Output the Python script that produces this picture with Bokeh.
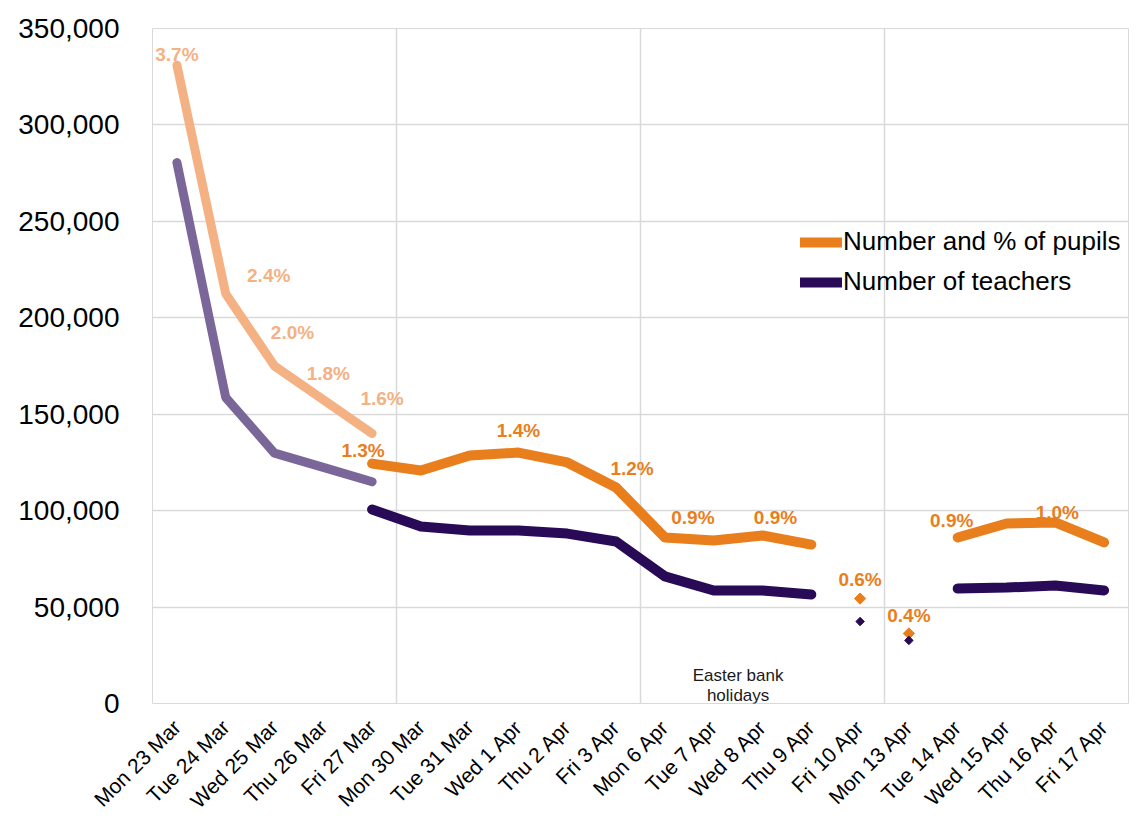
import math
from bokeh.plotting import figure
from bokeh.models import FixedTicker, NumeralTickFormatter, ColumnDataSource, Legend, LegendItem, Label
from bokeh.core.properties import value
from bokeh.embed import file_html
from bokeh.resources import INLINE

# ---------------- data ----------------
dates = ["Mon 23 Mar", "Tue 24 Mar", "Wed 25 Mar", "Thu 26 Mar", "Fri 27 Mar",
         "Mon 30 Mar", "Tue 31 Mar", "Wed 1 Apr", "Thu 2 Apr", "Fri 3 Apr",
         "Mon 6 Apr", "Tue 7 Apr", "Wed 8 Apr", "Thu 9 Apr", "Fri 10 Apr",
         "Mon 13 Apr", "Tue 14 Apr", "Wed 15 Apr", "Thu 16 Apr", "Fri 17 Apr"]

# earlier collection (first week)
pupils_early = [331000, 212500, 175000, 157500, 140000]
teachers_early = [280500, 158700, 129800, 122400, 115000]
pct_early = ["3.7%", "2.4%", "2.0%", "1.8%", "1.6%"]

# later collection
pupils = [None, None, None, None, 124400, 120800, 128600, 130100, 125000, 112000,
          86100, 84500, 87100, 82400, 54400, 36300, 86100, 93300, 93900, 83500]
teachers = [None, None, None, None, 100600, 91800, 89700, 89700, 88100, 84000,
            65900, 58600, 58600, 56500, 42500, 32700, 59600, 60100, 61200, 58600]
pct_pupils = ["", "", "", "", "1.3%", "", "", "1.4%", "", "1.2%",
              "0.9%", "", "0.9%", "", "0.6%", "0.4%", "0.9%", "", "1.0%", ""]

bank_holidays = ["Fri 10 Apr", "Mon 13 Apr"]
y_ticks = [0, 50000, 100000, 150000, 200000, 250000, 300000, 350000]

# ---------------- styles ----------------
C_LORANGE = "#F4B183"
C_ORANGE = "#E97E1C"
C_LPURPLE = "#7B6699"
C_PURPLE = "#280A56"
GRID = "#D9D9D9"
FONT = "Liberation Sans"

# label pixel offsets (dx right, dy up)
early_off = [(0, 11), (43, 18), (18, 34), (5, 26), (10, 35)]
late_off = {4: (-9, 13), 7: (0, 22), 9: (16, 19), 10: (28, 20), 12: (13, 18),
            14: (0, 19), 15: (0, 18), 16: (-6, 17), 18: (2, 10)}

idx = list(range(len(dates)))
nan = float("nan")
hol = set(dates.index(d) for d in bank_holidays)

p = figure(frame_width=976, frame_height=675, min_border_left=152, min_border_right=9,
           min_border_top=28, min_border_bottom=115,
           x_range=(-0.5, len(dates) - 0.5), y_range=(0, 350000),
           output_backend="svg", toolbar_location=None)
p.outline_line_color = GRID
p.background_fill_color = "white"
p.border_fill_color = "white"

# axes
p.yaxis.ticker = FixedTicker(ticks=y_ticks)
p.yaxis.formatter = NumeralTickFormatter(format="0,0")
p.yaxis.axis_line_color = None
p.yaxis.major_tick_line_color = None
p.yaxis.minor_tick_line_color = None
p.yaxis.major_label_text_font = FONT
p.yaxis.major_label_text_font_size = "28px"
p.yaxis.major_label_text_color = "#000000"
p.yaxis.major_label_standoff = 27

p.xaxis.ticker = FixedTicker(ticks=idx)
p.xaxis.major_label_overrides = {i: d for i, d in enumerate(dates)}
p.xaxis.major_label_orientation = math.pi / 4
p.xaxis.axis_line_color = None
p.xaxis.major_tick_line_color = None
p.xaxis.minor_tick_line_color = None
p.xaxis.major_label_text_font = FONT
p.xaxis.major_label_text_font_size = "21px"
p.xaxis.major_label_text_color = "#000000"
p.xaxis.major_label_standoff = 14

p.ygrid.grid_line_color = GRID
p.ygrid.grid_line_width = 1.5
p.xgrid.ticker = FixedTicker(ticks=[4.5, 9.5, 14.5])
p.xgrid.grid_line_color = GRID
p.xgrid.grid_line_width = 1.5

# early lines
x_early = idx[:len(pupils_early)]
p.line(x_early, pupils_early, line_color=C_LORANGE, line_width=9, line_cap="round", line_join="round")
p.line(x_early, teachers_early, line_color=C_LPURPLE, line_width=9, line_cap="round", line_join="round")

# later lines (break at bank holidays)
pup_line = [nan if (v is None or i in hol) else v for i, v in enumerate(pupils)]
tea_line = [nan if (v is None or i in hol) else v for i, v in enumerate(teachers)]
r_pup = p.line(idx, pup_line, line_color=C_ORANGE, line_width=10, line_cap="round", line_join="round")
r_tea = p.line(idx, tea_line, line_color=C_PURPLE, line_width=10, line_cap="round", line_join="round")

hx = sorted(hol)
p.scatter(hx, [pupils[i] for i in hx], marker="square", angle=math.pi / 4, size=8,
          fill_color=C_ORANGE, line_color=C_ORANGE)
p.scatter(hx, [teachers[i] for i in hx], marker="square", angle=math.pi / 4, size=6,
          fill_color=C_PURPLE, line_color=C_PURPLE)

# percentage labels
src_e = ColumnDataSource(dict(x=x_early, y=pupils_early, t=pct_early,
                              dx=[o[0] for o in early_off], dy=[-o[1] for o in early_off]))
p.text(x="x", y="y", text="t", x_offset="dx", y_offset="dy", source=src_e,
       text_color=C_LORANGE, text_font=value(FONT), text_font_style="bold",
       text_font_size="19px", text_align="center", text_baseline="middle")

lx = [i for i in idx if pct_pupils[i]]
src_l = ColumnDataSource(dict(x=lx, y=[pupils[i] for i in lx], t=[pct_pupils[i] for i in lx],
                              dx=[late_off[i][0] for i in lx], dy=[-late_off[i][1] for i in lx]))
p.text(x="x", y="y", text="t", x_offset="dx", y_offset="dy", source=src_l,
       text_color=C_ORANGE, text_font=value(FONT), text_font_style="bold",
       text_font_size="19px", text_align="center", text_baseline="middle")

# Easter annotation
for txt, yy in (("Easter bank", 14500), ("holidays", 4200)):
    p.add_layout(Label(x=11.5, y=yy, text=txt, text_align="center", text_baseline="middle",
                       text_font=FONT, text_font_size="17px", text_color="#1A1A1A"))

legend = Legend(items=[LegendItem(label="Number and % of pupils", renderers=[r_pup]),
                       LegendItem(label="Number of teachers", renderers=[r_tea])],
                location=(648, 406), orientation="vertical")
legend.background_fill_alpha = 0
legend.border_line_alpha = 0
legend.padding = 0
legend.margin = 0
legend.spacing = 9
legend.glyph_width = 42
legend.glyph_height = 22
legend.label_height = 22
legend.label_standoff = 1
legend.label_text_font = FONT
legend.label_text_font_size = "26px"
legend.label_text_color = "#000000"
p.add_layout(legend)

open("out.html", "w").write(file_html(p, INLINE))
